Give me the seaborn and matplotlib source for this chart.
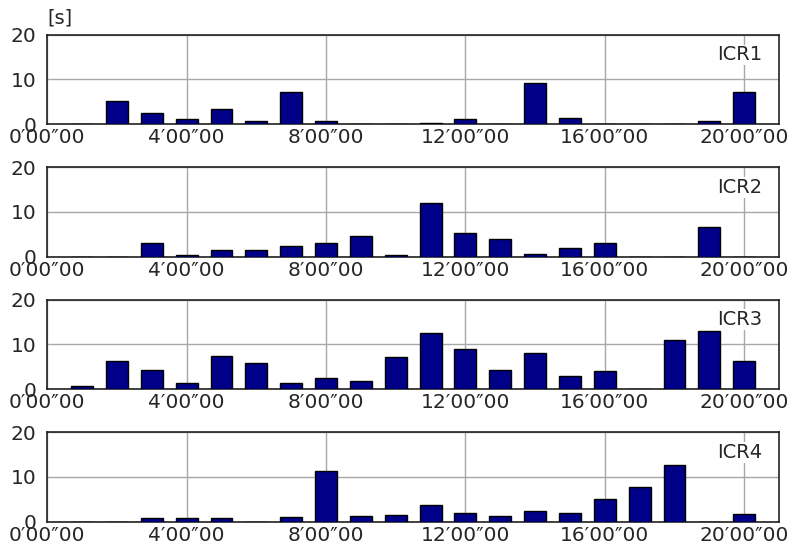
import numpy as np
import pandas as pd
import matplotlib
matplotlib.use('Agg')
import matplotlib.pyplot as plt
import seaborn as sns

# Data (seconds per hour slot)
hours = list(range(1, 21))
icr1 = [0.0, 5.1, 2.4, 1.1, 3.5, 0.8, 7.2, 0.8, 0.0, 0.0,
        0.2, 1.1, 0.0, 9.3, 1.3, 0.0, 0.0, 0.0, 0.8, 7.2]
icr2 = [0.0, 0.0, 3.0, 0.4, 1.4, 1.4, 2.5, 3.0, 4.7, 0.4,
        11.9, 5.4, 3.9, 0.5, 2.0, 3.0, 0.0, 0.0, 6.7, 0.0]
icr3 = [0.8, 6.4, 4.2, 1.3, 7.4, 5.8, 1.4, 2.4, 1.8, 7.2,
        12.6, 9.0, 4.2, 8.1, 3.0, 4.0, 0.0, 10.9, 13.0, 6.3]
icr4 = [0.0, 0.0, 0.75, 0.75, 0.75, 0.0, 1.0, 11.3, 1.3, 1.5,
        3.7, 1.9, 1.3, 2.4, 1.9, 5.1, 7.8, 12.6, 0.0, 1.7]
series_names = ['ICR1', 'ICR2', 'ICR3', 'ICR4']
xticks = [0, 4, 8, 12, 16, 20]
xtick_labels = [f'{h}\u203200\u203300' for h in xticks]
yticks = [0, 10, 20]

sns.set_style('white')
plt.rcParams['font.family'] = ['DejaVu Sans']

fig, axes = plt.subplots(4, 1, figsize=(7.96, 5.5), dpi=100)
fig.subplots_adjust(left=0.0594, right=0.9787, top=0.937, bottom=0.0515, hspace=0.479)

for ax, name, vals in zip(axes, series_names, [icr1, icr2, icr3, icr4]):
    df = pd.DataFrame({'hour': hours, 'sec': vals})
    sns.barplot(data=df, x='hour', y='sec', native_scale=True, width=0.63,
                color='#000088', saturation=1, edgecolor='black', linewidth=1,
                ax=ax, zorder=3)
    ax.set_xlim(0, 21)
    ax.set_ylim(0, 20)
    ax.set_xticks(xticks)
    ax.set_xticklabels(xtick_labels, fontsize=14.5)
    ax.set_yticks(yticks)
    ax.set_yticklabels([str(v) for v in yticks], fontsize=14.5)
    ax.tick_params(axis='y', length=0, pad=8)
    ax.tick_params(axis='x', length=0, pad=3)
    ax.grid(True, color='#a8a8a8', linewidth=1, zorder=0)
    ax.set_axisbelow(True)
    ax.set_xlabel('')
    ax.set_ylabel('')
    for side in ['top', 'right', 'left', 'bottom']:
        ax.spines[side].set_visible(True)
        ax.spines[side].set_color('#222222')
        ax.spines[side].set_linewidth(1.2)
    ax.text(0.977, 0.775, name, transform=ax.transAxes, ha='right', va='center',
            fontsize=14, zorder=5,
            bbox=dict(facecolor='white', edgecolor='none', pad=0.5))

fig.text(0.0594, 0.967, '[s]', fontsize=14, ha='left', va='center')

plt.savefig('out.png', dpi=100)
